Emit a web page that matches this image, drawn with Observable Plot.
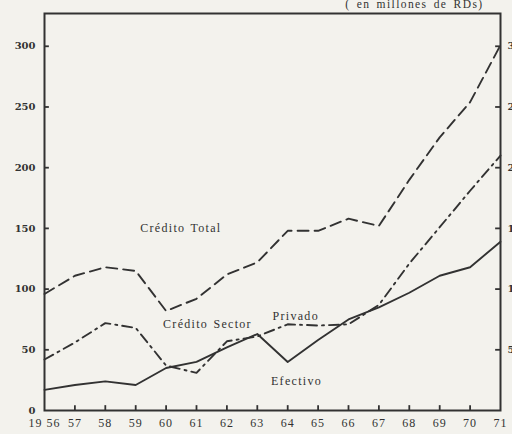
<!DOCTYPE html>
<html>
<head>
<meta charset="utf-8">
<script src="https://cdn.jsdelivr.net/npm/d3@7"></script>
<script src="https://cdn.jsdelivr.net/npm/@observablehq/plot@0.6"></script>
<style>
  html, body { margin: 0; padding: 0; background: #f3f2ed; }
  #chart svg { display: block; background: #f3f2ed; }
  .lbl text { letter-spacing: 1.3px; word-spacing: 1px; }
  .xlbl text { letter-spacing: 1px; }
  .note text { letter-spacing: 1.4px; word-spacing: 2px; }
</style>
</head>
<body>
<div id="chart"></div>
<script>
// Data (millions of RD$)
const years = [1956,1957,1958,1959,1960,1961,1962,1963,1964,1965,1966,1967,1968,1969,1970,1971];
const creditoTotal   = [96,111,118,115,82,92,112,122,148,148,158,152,190,225,254,301];
const creditoPrivado = [42,56,72,68,37,31,57,61,71,70,71,87,121,151,181,210];
const efectivo       = [17,21,24,21,35,40,52,63,40,58,75,85,97,111,118,139];

const yTicks = [50,100,150,200,250,300];
const yLabels = [0,50,100,150,200,250,300];
const xTickYears = [1957,1958,1959,1960,1961,1962,1963,1964,1965,1966,1967,1968,1969,1970];
const xLabels = ["19 56","57","58","59","60","61","62","63","64","65","66","67","68","69","70","71"];

const unitNote = ["( en millones de RDs)"];
const labelNames = ["Crédito Total","Crédito Sector","Privado","Efectivo"];
const labelYears = [1959.15,1959.9,1963.5,1963.45];
const labelValues = [150,71.5,78,24.5];

const ink = "#323232";
const serif = "'Liberation Serif', 'DejaVu Serif', serif";

const series = [
  {name: "Crédito Total", values: creditoTotal, dash: "11,6"},
  {name: "Crédito Sector Privado", values: creditoPrivado, dash: "10,5,2,5"},
  {name: "Efectivo", values: efectivo, dash: null}
];
const lineMarks = series.map(s => Plot.line(
  years.map((yr, i) => ({year: yr, value: s.values[i]})),
  {x: "year", y: "value", stroke: ink, strokeWidth: 1.9, strokeDasharray: s.dash, strokeLinejoin: "round"}
));

const labels = labelNames.map((t, i) => ({text: t, year: labelYears[i], value: labelValues[i]}));
const x0 = years[0], x1 = years[years.length - 1];

const chart = Plot.plot({
  width: 512,
  height: 434,
  marginLeft: 44,
  marginRight: 12,
  marginTop: 13,
  marginBottom: 24,
  style: {background: "#f3f2ed", fontFamily: serif, color: ink, overflow: "visible"},
  x: {domain: [x0, x1]},
  y: {domain: [0, 327]},
  marks: [
    ...lineMarks,
    Plot.frame({stroke: ink, strokeWidth: 2}),
    // inward tick marks on left, right and bottom edges
    Plot.ruleY(yTicks, {y: d => d, x1: x0, x2: x0 + 0.16, stroke: ink, strokeWidth: 1.8}),
    Plot.ruleY(yTicks, {y: d => d, x1: x1 - 0.16, x2: x1, stroke: ink, strokeWidth: 1.8}),
    Plot.ruleX(xTickYears, {x: d => d, y1: 0, y2: 4, stroke: ink, strokeWidth: 1.8}),
    // tick labels
    Plot.axisY(yLabels, {anchor: "left", tickSize: 0, tickPadding: 9, fontSize: 10, fontWeight: "bold", fontFamily: "'DejaVu Serif', serif", fill: ink, label: null}),
    Plot.axisY(yTicks, {anchor: "right", tickSize: 0, tickPadding: 7, fontSize: 10, fontWeight: "bold", fontFamily: "'DejaVu Serif', serif", fill: ink, label: null}),
    Plot.axisX(years, {anchor: "bottom", tickSize: 0, tickPadding: 8, tickFormat: d => xLabels[years.indexOf(d)], fontSize: 12, fill: ink, fontFamily: serif, label: null, className: "xlbl"}),
    Plot.text(labels, {x: "year", y: "value", text: "text", textAnchor: "start", fontSize: 12, fill: ink, fontFamily: serif, className: "lbl"}),
    Plot.text(unitNote, {frameAnchor: "top-right", text: d => d, dx: -17, dy: -14, fontSize: 11.5, fill: ink, fontFamily: serif, textAnchor: "end", className: "note"})
  ]
});
document.getElementById("chart").append(chart);
</script>
</body>
</html>
